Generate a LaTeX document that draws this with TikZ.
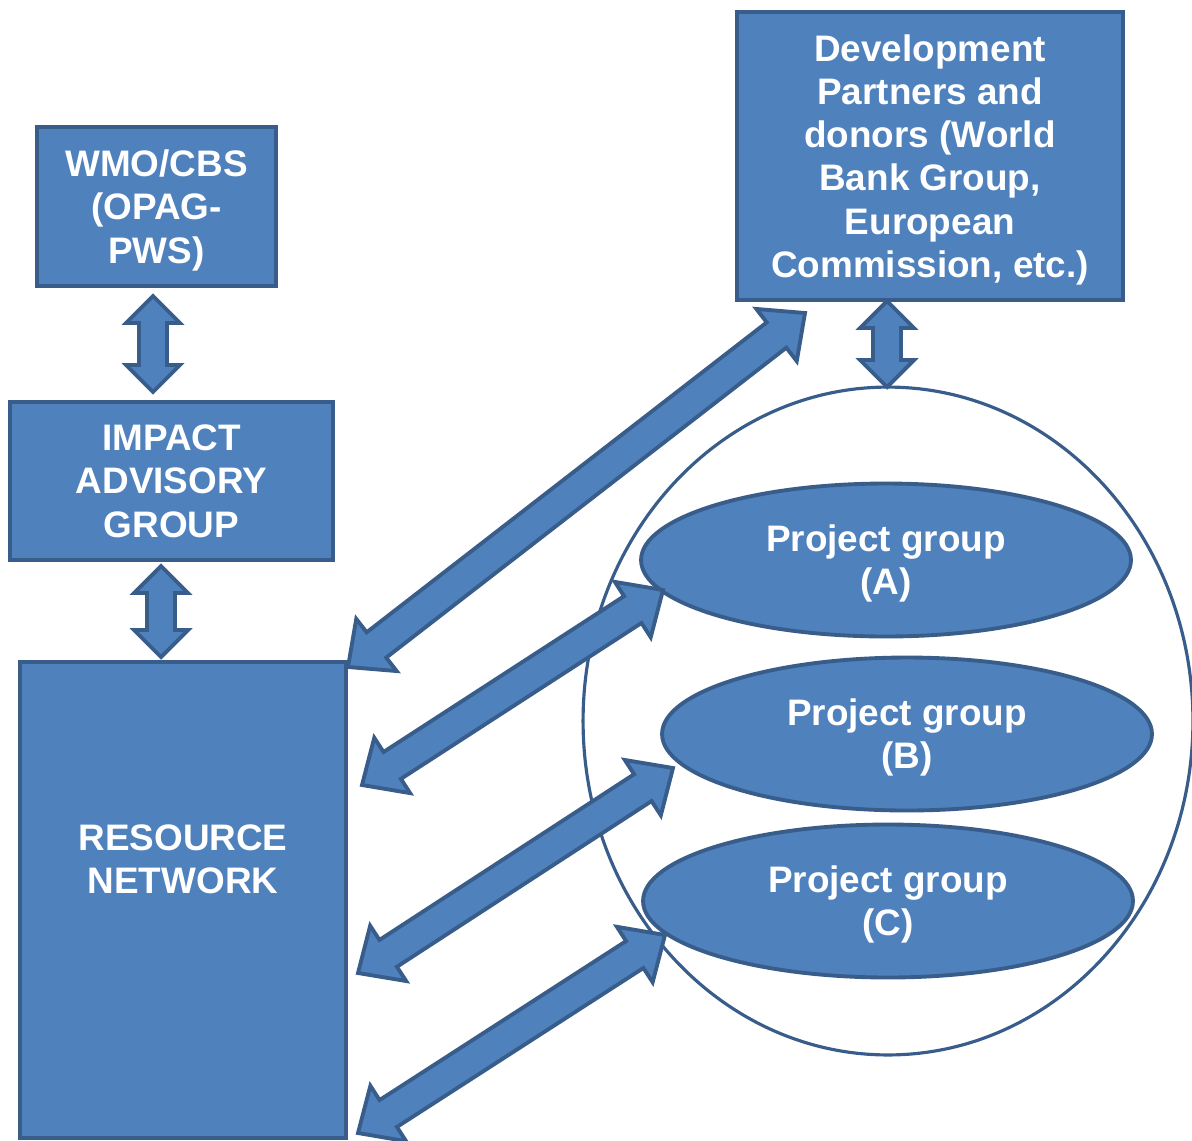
\documentclass[tikz,border=0pt]{standalone}
\usepackage{fontspec}
\setmainfont{Liberation Sans}
\usetikzlibrary{calc,shapes.geometric}
\definecolor{boxfill}{HTML}{4F81BD}
\definecolor{boxline}{HTML}{385D8A}
% block arrow with two heads: from, to, head length, head half width, shaft half width
\newcommand\blockarrow[5]{%
  \draw[barrow] let \p1=($(#2)-(#1)$), \n1={atan2(\y1,\x1)} in
    (#1) -- ($(#1)+(\n1:#3)+(\n1+90:#4)$) -- ($(#1)+(\n1:#3)+(\n1+90:#5)$)
    -- ($(#2)-(\n1:#3)+(\n1+90:#5)$) -- ($(#2)-(\n1:#3)+(\n1+90:#4)$)
    -- (#2) -- ($(#2)-(\n1:#3)-(\n1+90:#4)$) -- ($(#2)-(\n1:#3)-(\n1+90:#5)$)
    -- ($(#1)+(\n1:#3)-(\n1+90:#5)$) -- ($(#1)+(\n1:#3)-(\n1+90:#4)$) -- cycle;}
\begin{document}
\begin{tikzpicture}[x=0.02cm,y=-0.02cm,
  every node/.style={font=\fontsize{21}{24.6}\selectfont\bfseries,text=white,align=center,text depth=0pt},
  box/.style={draw=boxline,fill=boxfill,line width=2pt,inner sep=0pt},
  pg/.style={ellipse,draw=boxline,fill=boxfill,line width=2.2pt,minimum width=9.8cm,minimum height=3.06cm,inner sep=0pt},
  barrow/.style={draw=boxline,fill=boxfill,line width=2.2pt,line join=miter}]
\useasboundingbox (0,0) rectangle (1192,1140);
\node[ellipse,draw=boxline,fill=white,line width=1.8pt,minimum width=12.2cm,minimum height=13.36cm] (grp) at (888,721) {};
\node[pg] (pa) at (886,560) {Project group\\(A)};
\node[pg] (pb) at (907,734) {Project group\\(B)};
\node[pg] (pc) at (888,901) {Project group\\(C)};
\node[box,minimum width=4.78cm,minimum height=3.18cm] (wmo) at (156.5,206.5) {WMO/CBS\\(OPAG-\\PWS)};
\node[box,minimum width=7.72cm,minimum height=5.76cm] (dev) at (930,156) {Development\\Partners and\\donors (World\\Bank Group,\\European\\Commission, etc.)};
\node[box,minimum width=6.46cm,minimum height=3.16cm] (iag) at (171.5,481) {IMPACT\\ADVISORY\\GROUP};
\node[box,minimum width=6.52cm,minimum height=9.52cm] (rn) at (183,900) {};
\node (rnt) at (183,859) {RESOURCE\\NETWORK};
\coordinate (w1) at (153,296);
\coordinate (w2) at (153,392);
\coordinate (i1) at (161,566);
\coordinate (i2) at (161,657);
\coordinate (d1) at (887,301);
\coordinate (d2) at (887,387);
\coordinate (r0) at (348,667);
\coordinate (d0) at (805,313);
\coordinate (r1) at (362,785);
\coordinate (a1) at (663,590);
\coordinate (r2) at (358,973);
\coordinate (b1) at (673,768);
\coordinate (r3) at (358,1133);
\coordinate (c1) at (665,935);
\blockarrow{w1}{w2}{0.54cm}{0.54cm}{0.28cm}
\blockarrow{i1}{i2}{0.54cm}{0.54cm}{0.28cm}
\blockarrow{d1}{d2}{0.54cm}{0.54cm}{0.28cm}
\blockarrow{r0}{d0}{0.72cm}{0.66cm}{0.32cm}
\blockarrow{r1}{a1}{0.72cm}{0.66cm}{0.32cm}
\blockarrow{r2}{b1}{0.72cm}{0.66cm}{0.32cm}
\blockarrow{r3}{c1}{0.72cm}{0.66cm}{0.32cm}
\end{tikzpicture}
\end{document}
